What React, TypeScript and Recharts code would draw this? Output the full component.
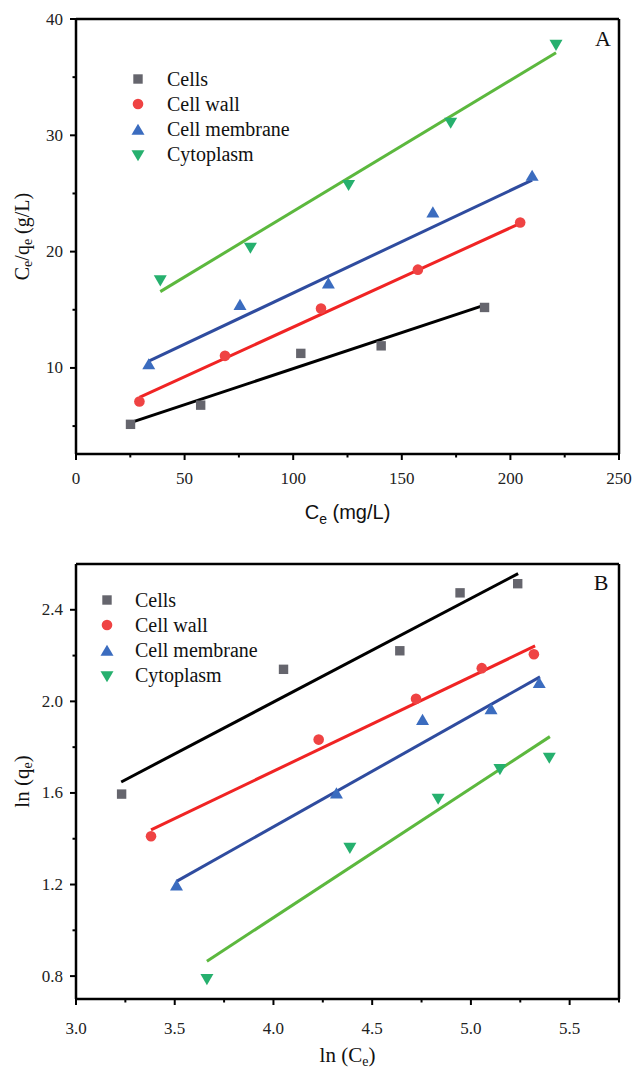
import React from "react";
import { ScatterChart, Scatter, XAxis, YAxis, Legend, Label, ReferenceLine } from "recharts";

type Pt = { x: number; y: number };

// Panel A: Langmuir (Ce/qe vs Ce)
const cellsA: Pt[] = [
    { x: 25.1, y: 5.15 }, { x: 57.4, y: 6.8 }, { x: 103.5, y: 11.25 }, { x: 140.5, y: 11.9 }, { x: 188.1, y: 15.2 }
];
const wallA: Pt[] = [
    { x: 29.2, y: 7.12 }, { x: 68.6, y: 11.04 }, { x: 112.8, y: 15.1 }, { x: 157.4, y: 18.45 }, { x: 204.5, y: 22.5 }
];
const membraneA: Pt[] = [
    { x: 33.5, y: 10.3 }, { x: 75.5, y: 15.4 }, { x: 116.2, y: 17.25 }, { x: 164.3, y: 23.35 }, { x: 210, y: 26.5 }
];
const cytoA: Pt[] = [
    { x: 38.8, y: 17.55 }, { x: 80.3, y: 20.35 }, { x: 125.5, y: 25.75 }, { x: 172.5, y: 31.1 }, { x: 221, y: 37.8 }
];
// fitted line end points, panel A
const cellsFitA: Pt[] = [{ x: 25.1, y: 5.3 }, { x: 188.1, y: 15.4 }];
const wallFitA: Pt[] = [{ x: 29.2, y: 7.47 }, { x: 204.5, y: 22.43 }];
const membraneFitA: Pt[] = [{ x: 33.5, y: 10.58 }, { x: 210, y: 26.15 }];
const cytoFitA: Pt[] = [{ x: 38.8, y: 16.56 }, { x: 221, y: 37.1 }];

// Panel B: Freundlich (ln qe vs ln Ce)
const cellsB: Pt[] = [
    { x: 3.231, y: 1.595 }, { x: 4.051, y: 2.14 }, { x: 4.64, y: 2.221 }, { x: 4.945, y: 2.474 }, { x: 5.237, y: 2.514 }
];
const wallB: Pt[] = [
    { x: 3.38, y: 1.411 }, { x: 4.229, y: 1.833 }, { x: 4.722, y: 2.011 }, { x: 5.055, y: 2.145 }, { x: 5.319, y: 2.206 }
];
const membraneB: Pt[] = [
    { x: 3.509, y: 1.195 }, { x: 4.319, y: 1.597 }, { x: 4.755, y: 1.918 }, { x: 5.102, y: 1.965 }, { x: 5.346, y: 2.079 }
];
const cytoB: Pt[] = [
    { x: 3.663, y: 0.788 }, { x: 4.387, y: 1.361 }, { x: 4.834, y: 1.576 }, { x: 5.147, y: 1.705 }, { x: 5.397, y: 1.755 }
];
const cellsFitB: Pt[] = [{ x: 3.229, y: 1.648 }, { x: 5.239, y: 2.558 }];
const wallFitB: Pt[] = [{ x: 3.38, y: 1.439 }, { x: 5.325, y: 2.242 }];
const membraneFitB: Pt[] = [{ x: 3.509, y: 1.214 }, { x: 5.35, y: 2.107 }];
const cytoFitB: Pt[] = [{ x: 3.663, y: 0.865 }, { x: 5.4, y: 1.846 }];

const seriesNames = ["Cells", "Cell wall", "Cell membrane", "Cytoplasm"];
const markerKinds = ["square", "circle", "triangle", "down"];
const markerColors = ["#65656d", "#ef4343", "#3b6cbf", "#26b06e"];
const lineColors = ["#000000", "#f02424", "#2f4c9f", "#5cb83e"];

const ticksXA = [0, 25, 50, 75, 100, 125, 150, 175, 200, 225, 250];
const majorXA = [0, 50, 100, 150, 200, 250];
const ticksYA = [5, 10, 15, 20, 25, 30, 35, 40];
const majorYA = [10, 20, 30, 40];
const ticksXB = [3, 3.25, 3.5, 3.75, 4, 4.25, 4.5, 4.75, 5, 5.25, 5.5, 5.75];
const majorXB = [3, 3.5, 4, 4.5, 5, 5.5];
const ticksYB = [0.8, 1.0, 1.2, 1.4, 1.6, 1.8, 2.0, 2.2, 2.4];
const majorYB = [0.8, 1.2, 1.6, 2.0, 2.4];

const SERIF = "'Liberation Serif', 'Times New Roman', serif";
const SANS = "'Liberation Sans', Arial, sans-serif";

function Marker({ kind, cx, cy, fill }: { kind: string; cx: number; cy: number; fill: string }) {
    if (cx == null || cy == null) return <g />;
    if (kind === "square") return <rect x={cx - 4.7} y={cy - 4.7} width={9.4} height={9.4} fill={fill} />;
    if (kind === "circle") return <circle cx={cx} cy={cy} r={5.3} fill={fill} />;
    if (kind === "triangle")
        return <path d={`M${cx},${cy - 6.3} L${cx + 6.5},${cy + 4.8} L${cx - 6.5},${cy + 4.8} Z`} fill={fill} />;
    return <path d={`M${cx},${cy + 6.3} L${cx + 6.5},${cy - 4.8} L${cx - 6.5},${cy - 4.8} Z`} fill={fill} />;
}

function makeXTick(majors: number[], labelOffset: number, digits: number) {
    return (props: any) => {
        const { x, y, payload } = props;
        const major = majors.some((m) => Math.abs(m - payload.value) < 1e-6);
        return (
            <g>
                <line x1={x} x2={x} y1={y} y2={y + (major ? 6 : 3.5)} stroke="#000" strokeWidth={2} />
                {major && (
                    <text x={x} y={y + labelOffset} textAnchor="middle" dominantBaseline="central"
                        style={{ fontFamily: SERIF, fontSize: 17 }} fill="#222">
                        {payload.value.toFixed(digits)}
                    </text>
                )}
            </g>
        );
    };
}

function makeYTick(majors: number[], digits: number) {
    return (props: any) => {
        const { x, y, payload } = props;
        const major = majors.some((m) => Math.abs(m - payload.value) < 1e-6);
        return (
            <g>
                <line x1={x - (major ? 6 : 3.5)} x2={x} y1={y} y2={y} stroke="#000" strokeWidth={2} />
                {major && (
                    <text x={x - 13} y={y} textAnchor="end" dominantBaseline="central"
                        style={{ fontFamily: SERIF, fontSize: 17 }} fill="#222">
                        {payload.value.toFixed(digits)}
                    </text>
                )}
            </g>
        );
    };
}

function LegendBox({ symbolX, textX, top, letter, letterPos }: any) {
    return (
        <div style={{ position: "absolute", left: 0, top: 0, fontFamily: SERIF }}>
            {seriesNames.map((name, i) => (
                <div key={name} style={{ position: "absolute", left: symbolX - 8, top: top + i * 25.3 - 12.5, height: 25, display: "flex", alignItems: "center", whiteSpace: "nowrap" }}>
                    <svg width={16} height={16}>
                        <Marker kind={markerKinds[i]} cx={8} cy={8} fill={markerColors[i]} />
                    </svg>
                    <span style={{ marginLeft: textX - symbolX - 8, fontFamily: SERIF, fontSize: 20, color: "#111", lineHeight: "25px" }}>{name}</span>
                </div>
            ))}
            <div style={{ position: "absolute", left: letterPos[0] - 20, top: letterPos[1] - 14, width: 40, height: 28, lineHeight: "28px", textAlign: "center", fontFamily: SERIF, fontSize: 22, color: "#111" }}>
                {letter}
            </div>
        </div>
    );
}

function Panel({
    height, top, points, fits, xDomain, yDomain, xTicks, yTicks, xMajors, yMajors, digits,
    tickOffset, letter, letterPos, legendPos, xLabel, yLabel, xLabelY
}: any) {
    return (
        <ScatterChart width={633} height={height} margin={{ top, right: 14, bottom: 0, left: 0 }}>
            <XAxis type="number" dataKey="x" domain={xDomain} ticks={xTicks} allowDataOverflow
                height={height === 530 ? 76 : 71} tickSize={0} tickMargin={0} tickLine={false}
                axisLine={{ stroke: "#000", strokeWidth: 2.5 }}
                tick={makeXTick(xMajors, tickOffset, digits[0])} interval={0}>
                <Label content={(p: any) => {
                    const vb = p.viewBox;
                    return xLabel(vb.x + vb.width / 2, vb.y + xLabelY);
                }} />
            </XAxis>
            <YAxis type="number" dataKey="y" domain={yDomain} ticks={yTicks} allowDataOverflow
                width={76} tickSize={0} tickMargin={0} tickLine={false}
                axisLine={{ stroke: "#000", strokeWidth: 2.5 }}
                tick={makeYTick(yMajors, digits[1])} interval={0}>
                <Label content={(p: any) => {
                    const vb = p.viewBox;
                    return yLabel(vb.x + 22, vb.y + vb.height / 2);
                }} />
            </YAxis>
            {/* box frame: top and right edges */}
            <ReferenceLine y={yDomain[1]} stroke="#000" strokeWidth={2.5} ifOverflow="visible" />
            <ReferenceLine x={xDomain[1]} stroke="#000" strokeWidth={2.5} ifOverflow="visible" />
            {fits.map((f: Pt[], i: number) => (
                <Scatter key={"fit" + i} data={f} legendType="none" isAnimationActive={false}
                    line={{ stroke: lineColors[i], strokeWidth: 3 }} shape={() => <g />} />
            ))}
            {points.map((d: Pt[], i: number) => (
                <Scatter key={seriesNames[i]} name={seriesNames[i]} data={d} isAnimationActive={false}
                    fill={markerColors[i]}
                    shape={(p: any) => <Marker kind={markerKinds[i]} cx={p.cx} cy={p.cy} fill={markerColors[i]} />} />
            ))}
            <Legend content={() => <LegendBox symbolX={legendPos[0]} textX={legendPos[1]} top={legendPos[2]} letter={letter} letterPos={letterPos} />}
                wrapperStyle={{ position: "absolute", left: 0, top: 0, width: 0, height: 0 }} />
        </ScatterChart>
    );
}

const labelA_X = (x: number, y: number) => (
    <text x={x} y={y} textAnchor="middle" style={{ fontFamily: SANS, fontSize: 20 }} fill="#111">
        C<tspan fontSize={14} dy={5}>e</tspan><tspan dy={-5}> (mg/L)</tspan>
    </text>
);
const labelA_Y = (x: number, y: number) => (
    <text x={x} y={y} textAnchor="middle" dominantBaseline="central" transform={`rotate(-90 ${x} ${y})`}
        style={{ fontFamily: SERIF, fontSize: 20 }} fill="#111">
        C<tspan fontSize={14} dy={5}>e</tspan><tspan dy={-5}>/q</tspan><tspan fontSize={14} dy={5}>e</tspan><tspan dy={-5}> (g/L)</tspan>
    </text>
);
const labelB_X = (x: number, y: number) => (
    <text x={x} y={y} textAnchor="middle" style={{ fontFamily: SERIF, fontSize: 21 }} fill="#111">
        ln (C<tspan fontSize={14} dy={4}>e</tspan><tspan dy={-4}>)</tspan>
    </text>
);
const labelB_Y = (x: number, y: number) => (
    <text x={x} y={y} textAnchor="middle" dominantBaseline="central" transform={`rotate(-90 ${x} ${y})`}
        style={{ fontFamily: SERIF, fontSize: 21 }} fill="#111">
        ln (q<tspan fontSize={14} dy={5}>e</tspan><tspan dy={-5}>)</tspan>
    </text>
);

export default function App() {
    return (
        <div style={{ position: "absolute", left: 0, top: 0, width: 633, height: 1070, background: "#fff", fontFamily: SERIF }}>
            <div style={{ position: "absolute", left: 0, top: 0 }}>
                <Panel height={530} top={19}
                    points={[cellsA, wallA, membraneA, cytoA]}
                    fits={[cellsFitA, wallFitA, membraneFitA, cytoFitA]}
                    xDomain={[0, 250]} yDomain={[2.6, 40]}
                    xTicks={ticksXA} yTicks={ticksYA} xMajors={majorXA} yMajors={majorYA}
                    digits={[0, 0]} tickOffset={24}
                    letter="A" letterPos={[603, 39]} legendPos={[138, 167, 79]}
                    xLabel={labelA_X} yLabel={labelA_Y} xLabelY={65} />
            </div>
            <div style={{ position: "absolute", left: 0, top: 530 }}>
                <Panel height={540} top={34}
                    points={[cellsB, wallB, membraneB, cytoB]}
                    fits={[cellsFitB, wallFitB, membraneFitB, cytoFitB]}
                    xDomain={[3, 5.75]} yDomain={[0.7, 2.6]}
                    xTicks={ticksXB} yTicks={ticksYB} xMajors={majorXB} yMajors={majorYB}
                    digits={[1, 1]} tickOffset={29}
                    letter="B" letterPos={[601, 53]} legendPos={[107, 135, 70]}
                    xLabel={labelB_X} yLabel={labelB_Y} xLabelY={63} />
            </div>
        </div>
    );
}
